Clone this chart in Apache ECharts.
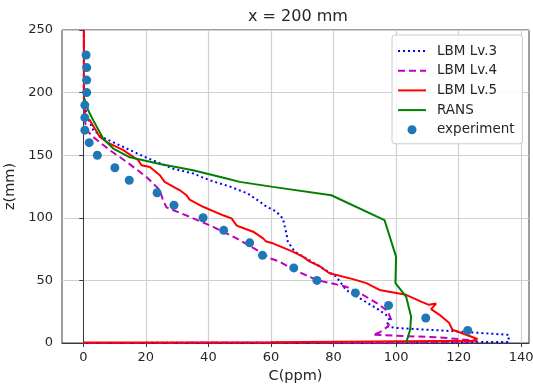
<!DOCTYPE html>
<html>
<head>
<meta charset="utf-8">
<script src="https://cdn.jsdelivr.net/npm/echarts@6/dist/echarts.min.js"></script>
<style>
  html, body { margin: 0; padding: 0; background: #fff; }
  #chart { width: 533px; height: 390px; }
</style>
</head>
<body>
<div id="chart"></div>
<script>
// values: C (ppm) against height z (mm)
const lv3C = [0.2, 0.2, 0.5, 1.1, 3.2, 6.4, 10.7, 20.2, 29, 35, 40.4, 46.8, 52.5, 56.4, 58.5, 61.7, 63.8, 64.9, 65.4, 67.6, 74, 80.9, 84, 88.3, 93.6, 96.8, 97.9, 96.8, 100, 118, 136, 136, 100, 0];
const lv3Z = [250, 198, 190, 182, 170, 164, 159, 148, 139, 135.5, 130, 125, 119.5, 113, 109, 105, 99.5, 88, 81, 73, 63.5, 53, 42.4, 35.8, 28, 22.5, 18.6, 13.2, 12, 9.5, 6.5, 0.8, 0.5, 0];

const lv4C = [0.2, 0.2, 0.3, 1.1, 3.2, 8.5, 13.9, 20.2, 24.5, 25.5, 26.6, 34, 41.5, 49, 56.4, 59.6, 62.8, 67, 74.5, 84, 89.4, 94.7, 97.4, 98.4, 97.4, 94.7, 92.6, 103, 114, 125, 126, 100, 0];
const lv4Z = [250, 195, 180, 170, 164.5, 154, 144.6, 132.6, 122, 114, 108.3, 100.8, 92.8, 83.6, 73, 67.7, 65, 59, 50.4, 45, 38.5, 30.5, 25.2, 18.6, 13.2, 8.4, 6.6, 5.5, 4.5, 2, 1.2, 0.3, 0];

const lv5C = [0.2, 0.2, 0.5, 0.6, 2.1, 5.3, 7.5, 12.8, 17.6, 18.6, 21.3, 24.5, 26, 30.9, 33, 34, 38.3, 44.7, 47.4, 49, 50, 54.3, 57.5, 58.5, 60.6, 67, 70.2, 72.4, 75.5, 78.7, 86.2, 90.5, 94.7, 103.2, 108, 110.5, 112.8, 111.2, 113.9, 117, 118, 122.4, 126, 124.5, 60, 0];
const lv5Z = [250, 200, 185, 180, 178, 164.5, 160.5, 154, 146, 142, 140.6, 134, 128.7, 122, 118, 114.5, 108.8, 102, 99.5, 94, 92.8, 88.9, 83.6, 81, 79.6, 73, 69, 65, 61.5, 55.7, 51, 47.8, 42.4, 38.5, 33.1, 30.5, 31.5, 27, 22.5, 15.9, 10.6, 6.6, 3.2, 1.8, 0.6, 0.3];

const ransC = [0.2, 1.6, 3.2, 6.4, 9.6, 14.9, 24.5, 35.1, 45.8, 50, 60.6, 79.3, 96.3, 100, 99.8, 103.2, 104.8, 104.5, 103.2];
const ransZ = [196, 185.7, 177.8, 163.2, 155.3, 148.3, 143, 138, 131.4, 128.7, 124.7, 118, 98.2, 69, 47.8, 37.1, 21.2, 10.6, 0];

const expC = [0.9, 1.1, 1.1, 1.1, 0.5, 0.5, 0.5, 1.9, 4.5, 10.1, 14.7, 23.6, 29.0, 38.3, 44.9, 53.2, 57.3, 67.3, 74.7, 87.0, 97.6, 109.5, 122.9];
const expZ = [230, 220, 210, 200, 190, 180, 170, 160, 150, 140, 130, 120, 110, 100, 90, 80, 70, 60, 50, 40, 30, 20, 10];

const xTicks = [0, 20, 40, 60, 80, 100, 120, 140];
const yTicks = [0, 50, 100, 150, 200, 250];

const pairs = (xs, ys) => xs.map((x, i) => [x, ys[i]]);

const font = "'DejaVu Sans', sans-serif";
const ink = "#262626";
const spine = "#3a3a3a";
const gridLine = { show: true, lineStyle: { color: "#d0d0d0", width: 1.2 } };
// legend entry for a plain line: hide the marker ECharts puts on it
const lineEntry = (name) => ({ name, itemStyle: { opacity: 0 } });

const chart = echarts.init(document.getElementById("chart"), null, { renderer: "canvas" });

chart.setOption({
  animation: false,
  backgroundColor: "#fff",
  textStyle: { fontFamily: font },
  title: {
    text: "x = 200 mm",
    left: 243,
    top: 4,
    textStyle: { fontFamily: font, fontSize: 16, fontWeight: "normal", color: ink }
  },
  grid: {
    left: 62, right: 4, top: 30, bottom: 47,
    containLabel: false,
    outerBoundsMode: "none",
    show: true, borderColor: spine, borderWidth: 1, backgroundColor: "transparent"
  },
  legend: {
    orient: "vertical",
    left: 392,
    top: 35,
    padding: [9, 8, 7, 5],
    itemWidth: 28,
    itemHeight: 9,
    itemGap: 5.7,
    backgroundColor: "rgba(255,255,255,0.85)",
    borderColor: "#cccccc",
    borderWidth: 1,
    borderRadius: 3,
    z: 10,
    textStyle: { fontFamily: font, fontSize: 13.5, color: ink, padding: [0, 0, 0, 6] },
    data: [lineEntry("LBM Lv.3"), lineEntry("LBM Lv.4"), lineEntry("LBM Lv.5"), lineEntry("RANS"), { name: "experiment" }]
  },
  xAxis: {
    type: "value",
    min: -6.8,
    max: 142.5,
    splitNumber: 7,
    name: "C(ppm)",
    nameLocation: "middle",
    nameGap: 25,
    nameTextStyle: { fontFamily: font, fontSize: 14.5, color: ink },
    axisLine: { show: true, lineStyle: { color: spine, width: 1 } },
    axisTick: { show: true, length: 4, lineStyle: { color: spine }, customValues: xTicks },
    axisLabel: { fontFamily: font, fontSize: 13, color: ink, margin: 8, customValues: xTicks },
    splitLine: gridLine
  },
  yAxis: {
    type: "value",
    min: 0,
    max: 250,
    interval: 50,
    name: "z(mm)",
    nameLocation: "middle",
    nameGap: 39,
    nameTextStyle: { fontFamily: font, fontSize: 14.5, color: ink },
    axisLine: { show: true, lineStyle: { color: spine, width: 1 } },
    axisTick: { show: true, length: 4, lineStyle: { color: spine } },
    axisLabel: { fontFamily: font, fontSize: 13, color: ink, margin: 9, customValues: yTicks },
    splitLine: gridLine
  },
  series: [
    {
      name: "LBM Lv.3",
      type: "line",
      symbol: "none",
      data: pairs(lv3C, lv3Z),
      lineStyle: { color: "#0000ff", width: 2, type: [2, 3] },
      itemStyle: { color: "#0000ff" },
      z: 2
    },
    {
      name: "LBM Lv.4",
      type: "line",
      symbol: "none",
      data: pairs(lv4C, lv4Z),
      lineStyle: { color: "#bf00bf", width: 2, type: [7, 4] },
      itemStyle: { color: "#bf00bf" },
      z: 3
    },
    {
      name: "LBM Lv.5",
      type: "line",
      symbol: "none",
      data: pairs(lv5C, lv5Z),
      lineStyle: { color: "#ff0000", width: 2 },
      itemStyle: { color: "#ff0000" },
      z: 4
    },
    {
      name: "RANS",
      type: "line",
      symbol: "none",
      data: pairs(ransC, ransZ),
      lineStyle: { color: "#008000", width: 2 },
      itemStyle: { color: "#008000" },
      z: 5
    },
    {
      name: "experiment",
      type: "scatter",
      symbol: "circle",
      symbolSize: 9,
      data: pairs(expC, expZ),
      itemStyle: { color: "#1f77b4", opacity: 1 },
      z: 6
    }
  ]
});
</script>
</body>
</html>
